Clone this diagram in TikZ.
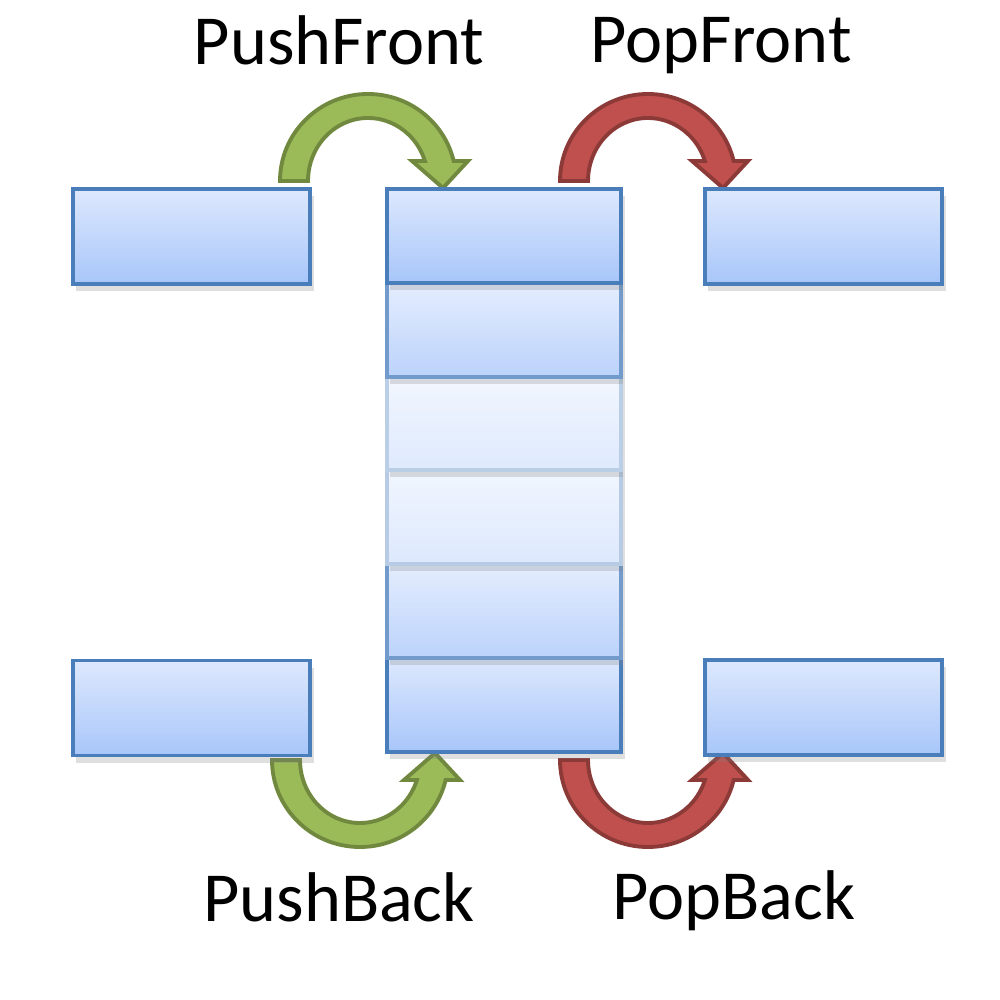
\documentclass[tikz,border=0pt]{standalone}
\usepackage{fontspec}
\setmainfont{Carlito}
\usetikzlibrary{shadows}

\definecolor{boxblue}{HTML}{4A7EBB}
\definecolor{boxtop}{HTML}{DDE8FD}
\definecolor{boxbot}{HTML}{A8C6FA}
\definecolor{grnfill}{HTML}{9BBB59}
\definecolor{grnline}{HTML}{71893F}
\definecolor{redfill}{HTML}{C0504D}
\definecolor{redline}{HTML}{8C3A38}

\tikzset{
  uturn/.pic={
    \filldraw[pic actions] (-88,0) arc[start angle=180,end angle=13.3,x radius=88,y radius=87]
      -- (100,20) -- (75,-7) -- (44,20) -- (56.9,20)
      arc[start angle=18.5,end angle=180,x radius=60,y radius=63] -- cycle;
  }
}

\begin{document}
\begin{tikzpicture}[x=0.01cm,y=0.01cm,
    box/.style={rectangle,draw=boxblue!#1!white,line width=1.1pt,inner sep=0pt,
      top color=boxtop!#1!white,bottom color=boxbot!#1!white,
      drop shadow={opacity=0.25,shadow xshift=1pt,shadow yshift=-2pt}},
    box/.default=100,
    side box/.style={box,minimum width=2.37cm,minimum height=0.95cm},
    cell/.style={box=#1,minimum width=2.34cm,minimum height=0.938cm},
    op label/.style={anchor=base,font=\fontsize{20}{24}\selectfont},
    green arrow/.style={fill=grnfill,draw=grnline,line width=1.1pt},
    red arrow/.style={fill=redfill,draw=redline,line width=1.1pt}]
  \useasboundingbox (0,0) rectangle (1000,1000);

  % the four turning arrows
  \pic[green arrow] at (368,819) {uturn};
  \pic[red arrow] at (648,819) {uturn};
  \pic[green arrow,yscale=-1] at (360,240) {uturn};
  \pic[red arrow,yscale=-1] at (648,240) {uturn};

  % the deque itself, drawn bottom up so shadows fall on the next cell
  \foreach \i/\f in {6/100,5/78,4/40,3/38,2/78,1/100}
    \node[cell=\f] (q\i) at (504,{764.1-93.8*(\i-1)}) {};

  \node[side box] (ltop) at (191.5,763.5) {};
  \node[side box] (rtop) at (823.5,763.5) {};
  \node[side box] (lbot) at (191.5,292) {};
  \node[side box] (rbot) at (823.5,292.5) {};

  \node[op label] (pushfront) at (339,935) {PushFront};
  \node[op label] (popfront) at (721,937) {PopFront};
  \node[op label] (pushback) at (339,78) {PushBack};
  \node[op label] (popback) at (734,80) {PopBack};
\end{tikzpicture}
\end{document}
